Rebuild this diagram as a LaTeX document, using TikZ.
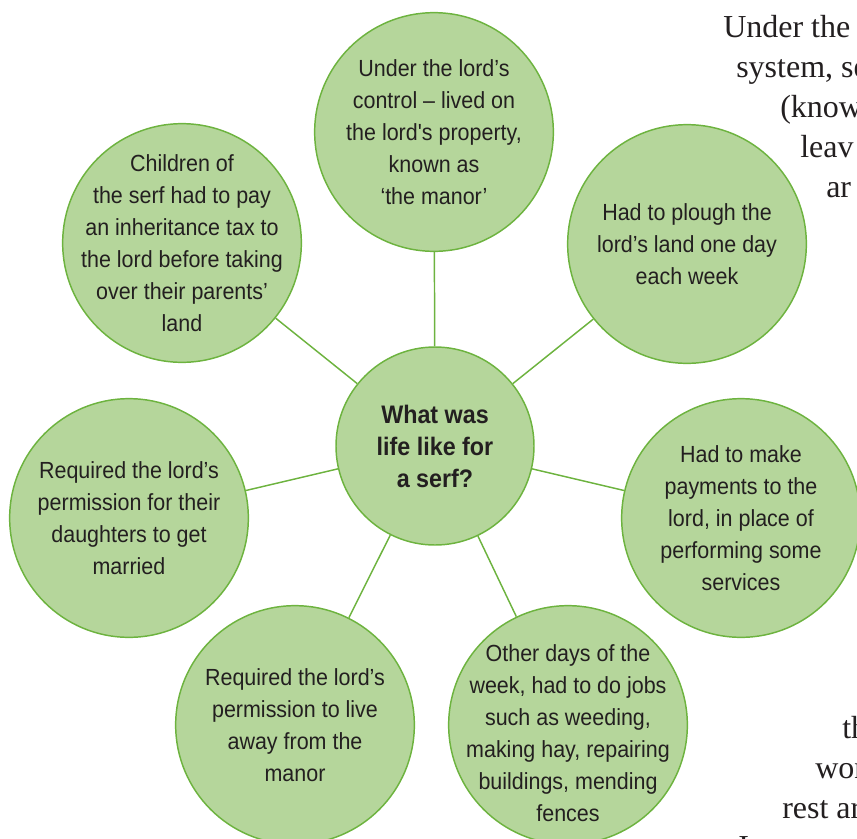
\documentclass[tikz,border=0pt]{standalone}
\usepackage{fontspec}
\usepackage{tikz}
\newfontfamily\bubblefont[FakeStretch=0.92]{Liberation Sans}
\newfontfamily\bookfont{Liberation Serif}
\definecolor{leaf}{HTML}{B5D69B}
\definecolor{stem}{HTML}{6DB33F}
\definecolor{ink}{HTML}{231F20}
\pgfdeclarelayer{bg}
\pgfsetlayers{bg,main}
\tikzset{
    bubble/.style={circle, draw=stem, fill=leaf, line width=1.1pt, minimum size=179pt, inner sep=0pt},
    hub/.style={bubble, minimum size=148.5pt},
    bubbletext/.style={align=center, text=ink, inner sep=0pt, font=\bubblefont\fontsize{17.5}{24}\selectfont},
    hubtext/.style={bubbletext, font=\bubblefont\bfseries\fontsize{19}{24}\selectfont},
    booktext/.style={anchor=base west, inner sep=0pt, text=ink, font=\bookfont\fontsize{24}{30}\selectfont},
    spoke/.style={draw=stem, line width=1.1pt}
}

\begin{document}
\begin{tikzpicture}[x=0.75pt, y=-0.75pt]
                        \useasboundingbox (0,0) rectangle (857,839);
                        \clip (0,0) rectangle (857,839);

                        % page text running past the edge
                        \node[booktext] (under) at (723,37) {Under the};
                        \node[booktext] (system) at (736,77) {system, se};
                        \node[booktext] (known) at (780,117) {(know};
                        \node[booktext] (leave) at (800,157) {leav};
                        \node[booktext] (and) at (826,197) {ar};
                        \node[booktext] (the) at (842,738) {th};
                        \node[booktext] (work) at (815,778) {wor};
                        \node[booktext] (rest) at (782,818) {rest ar};
                        \node[booktext] (last) at (738,857) {I};

                        \node[hub] (serf) at (435,446) {};
                        \node[hubtext] at (serf) {What was\\life like for\\a serf?};

                        \node[bubble] (manor) at (434,132) {};
                        \node[bubbletext] at (manor) {Under the lord’s\\control – lived on\\the lord's property,\\known as\\‘the manor’};

                        \node[bubble] (plough) at (687,244) {};
                        \node[bubbletext] at (plough) {Had to plough the\\lord’s land one day\\each week};

                        \node[bubble] (payments) at (741,518) {};
                        \node[bubbletext] at (payments) {Had to make\\payments to the\\lord, in place of\\performing some\\services};

                        \node[bubble] (jobs) at (568,725) {};
                        \node[bubbletext] at ([yshift=-6pt]jobs) {Other days of the\\week, had to do jobs\\such as weeding,\\making hay, repairing\\buildings, mending\\fences};

                        \node[bubble] (away) at (295,725) {};
                        \node[bubbletext] at (away) {Required the lord’s\\permission to live\\away from the\\manor};

                        \node[bubble] (daughters) at (129,518) {};
                        \node[bubbletext] at (daughters) {Required the lord’s\\permission for their\\daughters to get\\married};

                        \node[bubble] (tax) at (182,243) {};
                        \node[bubbletext] at (tax) {Children of\\the serf had to pay\\an inheritance tax to\\the lord before taking\\over their parents’\\land};

                        \begin{pgfonlayer}{bg}
                        \foreach \b in {manor,plough,payments,jobs,away,daughters,tax} {
                            \draw[spoke] (serf) -- (\b);
                        }
                        \end{pgfonlayer}
                    \end{tikzpicture}
\end{document}
